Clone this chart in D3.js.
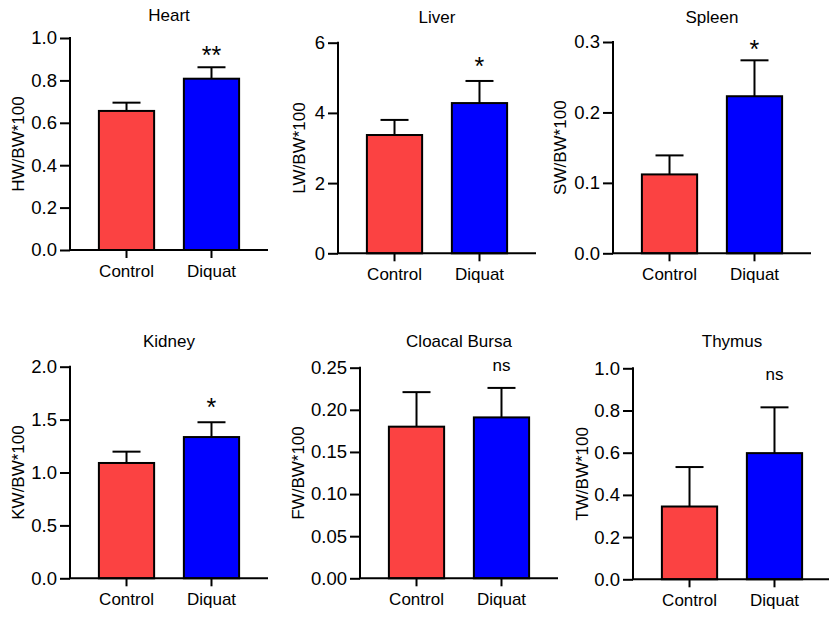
<!DOCTYPE html>
<html>
<head>
<meta charset="utf-8">
<script src="https://cdn.jsdelivr.net/npm/d3@7"></script>
<style>
  html, body { margin: 0; padding: 0; background: #fff; }
  svg { display: block; }
  text { font-family: "Liberation Sans", Arial, sans-serif; fill: #000; }
</style>
</head>
<body>
<svg id="chart" width="829" height="620"></svg>
<script>
// ---------------- data ----------------
const organs = ["Heart", "Liver", "Spleen", "Kidney", "Cloacal Bursa", "Thymus"];
const yLabels = ["HW/BW*100", "LW/BW*100", "SW/BW*100", "KW/BW*100", "FW/BW*100", "TW/BW*100"];
const groups = ["Control", "Diquat"];
const controlMean = [0.656, 3.37, 0.112, 1.09, 0.180, 0.345];
const controlSD   = [0.039, 0.43, 0.027, 0.107, 0.041, 0.187];
const diquatMean  = [0.808, 4.28, 0.223, 1.335, 0.191, 0.598];
const diquatSD    = [0.054, 0.63, 0.051, 0.140, 0.035, 0.217];
const yMax = [1.0, 6, 0.3, 2.0, 0.25, 1.0];
const yTicks = [
  [0, 0.2, 0.4, 0.6, 0.8, 1.0],
  [0, 2, 4, 6],
  [0, 0.1, 0.2, 0.3],
  [0, 0.5, 1.0, 1.5, 2.0],
  [0, 0.05, 0.10, 0.15, 0.20, 0.25],
  [0, 0.2, 0.4, 0.6, 0.8, 1.0]
];
const tickFormats = [".1f", "d", ".1f", ".1f", ".2f", ".1f"];
const significance = ["**", "*", "*", "*", "ns", "ns"];

// ---------------- layout (pixels) ----------------
const layout = [
  { x0: 70,  yTop: 38,    yBot: 250,   labelX: 18,  titleY: 20.5,  markY: 63.5 },
  { x0: 338, yTop: 42.7,  yBot: 253.3, labelX: 299, titleY: 23.3,  markY: 74.5 },
  { x0: 613, yTop: 42,    yBot: 253.3, labelX: 560, titleY: 23.3,  markY: 57.5 },
  { x0: 70,  yTop: 366.7, yBot: 578.3, labelX: 18,  titleY: 346.5, markY: 416 },
  { x0: 360, yTop: 367.7, yBot: 578.3, labelX: 298, titleY: 346.7, markY: 371 },
  { x0: 633, yTop: 368.3, yBot: 579.3, labelX: 582, titleY: 346.7, markY: 380 }
];
const plotW = 198;
const colors = { Control: "#fb4242", Diquat: "#0000ff" };
const xFont = 17, yTickFont = 18.5, titleFont = 17, starFont = 25;

const svg = d3.select("#chart");

organs.forEach((organ, i) => {
  const L = layout[i];
  const g = svg.append("g");

  const x = d3.scaleBand().domain(groups)
    .range([L.x0, L.x0 + plotW]).paddingInner(0.35).paddingOuter(0.34);
  const y = d3.scaleLinear().domain([0, yMax[i]]).range([L.yBot, L.yTop]);

  const rows = [
    { group: "Control", mean: controlMean[i], sd: controlSD[i] },
    { group: "Diquat",  mean: diquatMean[i],  sd: diquatSD[i] }
  ];

  // error bars (upper only)
  const eb = g.append("g").attr("stroke", "#000").attr("stroke-width", 2).attr("fill", "none");
  rows.forEach(r => {
    const cx = x(r.group) + x.bandwidth() / 2;
    eb.append("line").attr("x1", cx).attr("x2", cx)
      .attr("y1", y(r.mean)).attr("y2", y(r.mean + r.sd));
    eb.append("line").attr("x1", cx - 14).attr("x2", cx + 14)
      .attr("y1", y(r.mean + r.sd)).attr("y2", y(r.mean + r.sd));
  });

  // bars
  g.append("g").selectAll("rect").data(rows).join("rect")
    .attr("x", d => x(d.group))
    .attr("y", d => y(d.mean))
    .attr("width", x.bandwidth())
    .attr("height", d => y(0) - y(d.mean))
    .attr("fill", d => colors[d.group])
    .attr("stroke", "#000")
    .attr("stroke-width", 2);

  // y axis
  const yAxis = d3.axisLeft(y).tickValues(yTicks[i]).tickFormat(d3.format(tickFormats[i]))
    .tickSize(10).tickPadding(3).tickSizeOuter(0);
  const ya = g.append("g").attr("transform", `translate(${L.x0},0)`).call(yAxis);
  ya.select(".domain").attr("stroke-width", 2).attr("d", `M0,${L.yTop - 1}V${L.yBot}`);
  ya.selectAll(".tick line").attr("stroke-width", 2);
  ya.selectAll(".tick text").attr("font-size", yTickFont)
    .attr("font-family", "'Liberation Sans', Arial, sans-serif");

  // x axis
  const xAxis = d3.axisBottom(x).tickSize(8).tickPadding(7).tickSizeOuter(0);
  const xa = g.append("g").attr("transform", `translate(0,${L.yBot})`).call(xAxis);
  xa.select(".domain").attr("stroke-width", 2).attr("d", `M${L.x0 - 1},0H${L.x0 + plotW}`);
  xa.selectAll(".tick line").attr("stroke-width", 2);
  xa.selectAll(".tick text").attr("font-size", xFont)
    .attr("font-family", "'Liberation Sans', Arial, sans-serif");

  // title
  g.append("text")
    .attr("x", L.x0 + plotW / 2).attr("y", L.titleY)
    .attr("text-anchor", "middle").attr("font-size", titleFont)
    .text(organ);

  // y label
  g.append("text")
    .attr("transform", `translate(${L.labelX},${(L.yTop + L.yBot) / 2}) rotate(-90)`)
    .attr("text-anchor", "middle").attr("dy", "0.36em").attr("font-size", xFont)
    .text(yLabels[i]);

  // significance marker over Diquat
  const sig = significance[i];
  g.append("text")
    .attr("x", x("Diquat") + x.bandwidth() / 2).attr("y", L.markY)
    .attr("text-anchor", "middle")
    .attr("font-size", sig === "ns" ? xFont : starFont)
    .text(sig);
});
</script>
</body>
</html>
